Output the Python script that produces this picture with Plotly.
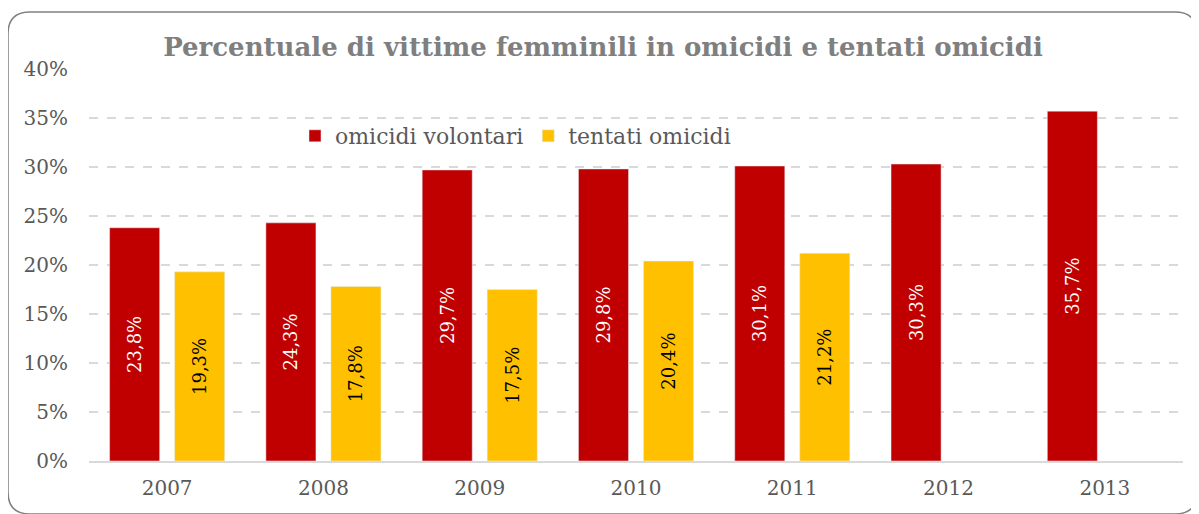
import plotly.graph_objects as go

anni = ["2007", "2008", "2009", "2010", "2011", "2012", "2013"]
omicidi_volontari = [23.8, 24.3, 29.7, 29.8, 30.1, 30.3, 35.7]
tentati_omicidi = [19.3, 17.8, 17.5, 20.4, 21.2, None, None]
tick_vals = [0, 5, 10, 15, 20, 25, 30, 35, 40]
tick_text = ["0%", "5%", "10%", "15%", "20%", "25%", "30%", "35%", "40%"]

# page body adds an 8px offset; work in screen pixels, then shift
OFF = 8
W, H = 1199, 514
L, R, T, B = 89 - OFF, 1199 - 1183 + OFF, 69 - OFF, 514 - 461 + OFF
FONT = "DejaVu Serif"


def lab(v):
    return None if v is None else f"{v:.1f}".replace(".", ",") + "%"


fig = go.Figure()
fig.add_trace(go.Bar(
    x=anni, y=omicidi_volontari, name="omicidi volontari",
    marker=dict(color="#c00000"),
    text=[lab(v) for v in omicidi_volontari], textposition="inside",
    insidetextanchor="middle", textangle=-90,
    textfont=dict(family=FONT, size=18, color="white"),
))
fig.add_trace(go.Bar(
    x=anni, y=tentati_omicidi, name="tentati omicidi",
    marker=dict(color="#ffc000"),
    text=[lab(v) for v in tentati_omicidi], textposition="inside",
    insidetextanchor="middle", textangle=-90,
    textfont=dict(family=FONT, size=18, color="black"),
))

pw, ph = W - L - R, H - T - B


def px(x):
    # x in screen pixels
    return (x - OFF - L) / pw


def py(y):
    # y in screen pixels
    return (H - B - (y - OFF)) / ph


x0, y0, x1, y1, r = 8, 12, 1197, 514, 22
path = (
    f"M {px(x0)},{py(y0 + r)} "
    f"Q {px(x0)},{py(y0)} {px(x0 + r)},{py(y0)} "
    f"L {px(x1 - r)},{py(y0)} "
    f"Q {px(x1)},{py(y0)} {px(x1)},{py(y0 + r)} "
    f"L {px(x1)},{py(y1 - r)} "
    f"Q {px(x1)},{py(y1)} {px(x1 - r)},{py(y1)} "
    f"L {px(x0 + r)},{py(y1)} "
    f"Q {px(x0)},{py(y1)} {px(x0)},{py(y1 - r)} Z"
)
fig.add_shape(type="path", xref="paper", yref="paper", path=path,
              line=dict(color="#808080", width=1.5), layer="below")

fig.update_layout(
    width=W, height=H,
    margin=dict(l=L, r=R, t=T, b=B),
    paper_bgcolor="white", plot_bgcolor="white",
    barmode="group", bargap=0.168, bargroupgap=0.23,
    title=dict(text="<b>Percentuale di vittime femminili in omicidi e tentati omicidi</b>",
               x=(603 - OFF) / W, xanchor="center", y=1 - (47 - OFF) / H, yanchor="middle",
               font=dict(family=FONT, size=26, color="#7f7f7f")),
    legend=dict(orientation="h", x=px(295), xanchor="left", y=py(136), yanchor="middle",
                font=dict(family=FONT, size=22, color="#595959"),
                bgcolor="rgba(0,0,0,0)", traceorder="normal"),
    xaxis=dict(showgrid=False, showline=True, linecolor="#d9d9d9", linewidth=2,
               ticks="", ticklabelstandoff=8,
               tickfont=dict(family=FONT, size=20, color="#595959")),
    yaxis=dict(range=[0, 40], tickvals=tick_vals, ticktext=tick_text,
               showgrid=True, gridcolor="#d9d9d9", griddash="dash", gridwidth=1.5,
               zeroline=False, showline=False, ticks="", ticklabelstandoff=20,
               tickfont=dict(family=FONT, size=20, color="#595959")),
)

fig.write_html("out.html")
